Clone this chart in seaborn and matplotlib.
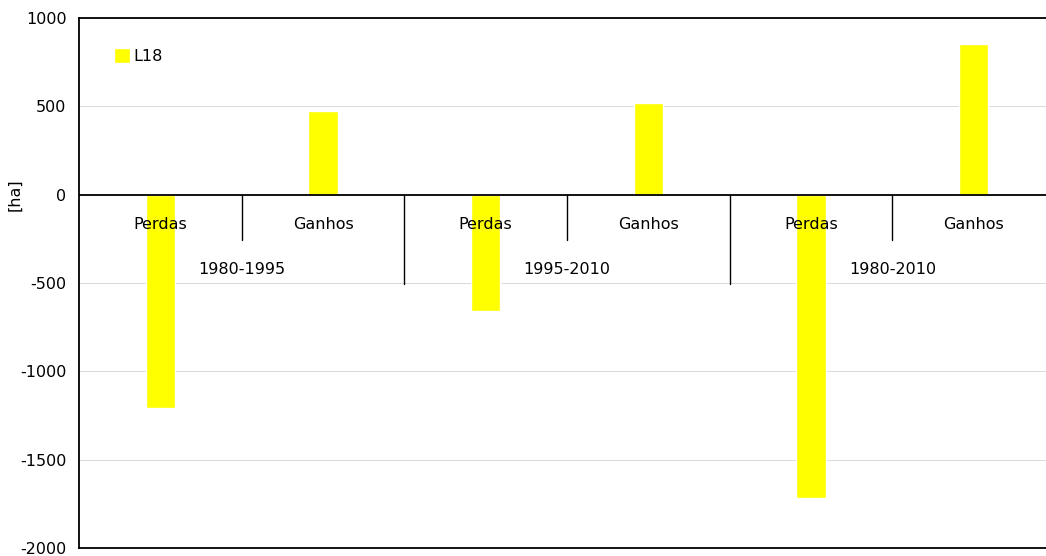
import matplotlib
matplotlib.use("Agg")
import matplotlib.pyplot as plt
import seaborn as sns
import pandas as pd

# values (ha)
periods = ["1980-1995", "1995-2010", "1980-2010"]
kinds = ["Perdas", "Ganhos"]
values = [-1205, 472, -658, 520, -1718, 852]
series_name = "L18"

keys = [f"{k} {p}" for p in periods for k in kinds]
df = pd.DataFrame({"key": keys, "value": values,
                   "kind": [k for p in periods for k in kinds],
                   "period": [p for p in periods for k in kinds]})

sns.set_style("white")
plt.rcParams["font.family"] = ["DejaVu Sans"]
plt.rcParams["axes.unicode_minus"] = False
plt.rcParams["text.color"] = "black"

fs = 11.5

fig = plt.figure(figsize=(10.46, 5.56), dpi=100)
# plot area runs a bit past the right edge of the image, as in the original
ax = fig.add_axes([79 / 1046, 1 - 548 / 556, (1055 - 79) / 1046, (548 - 18) / 556])

sns.barplot(data=df, x="key", y="value", order=keys, color="#FFFF00",
            width=0.18, saturation=1, ax=ax, label=series_name, zorder=3)

ax.set_ylim(-2000, 1000)
ax.set_xlim(-0.5, len(keys) - 0.5)
ax.set_yticks(range(-2000, 1001, 500))
ax.tick_params(axis="y", labelsize=fs, length=6, width=1, direction="out",
               colors="black", labelcolor="black", pad=3)
ax.tick_params(axis="x", bottom=False, labelbottom=False)
ax.set_xlabel("")
ax.set_ylabel("")
ax.yaxis.grid(True, color="#d9d9d9", linewidth=0.7, zorder=0)
for s in ["left", "top", "bottom", "right"]:
    ax.spines[s].set_color("black")
    ax.spines[s].set_linewidth(1.3)

ax.axhline(0, color="black", linewidth=1.3, zorder=4)

# category labels under the zero line
for i, row in df.iterrows():
    ax.text(i, -170, row["kind"], ha="center", va="center", fontsize=fs, zorder=5)
for j, p in enumerate(periods):
    ax.text(2 * j + 0.5, -425, p, ha="center", va="center", fontsize=fs, zorder=5)
    # short separator inside each group, long one between groups
    ax.plot([2 * j + 0.5] * 2, [0, -255], color="black", linewidth=1, zorder=4)
    if j > 0:
        ax.plot([2 * j - 0.5] * 2, [0, -505], color="black", linewidth=1, zorder=4)

ax.text(-0.066, 0.666, "[ha]", transform=ax.transAxes, rotation=90,
        ha="center", va="center", fontsize=fs)

ax.legend(loc="upper left", bbox_to_anchor=(0.029, 0.955), frameon=False,
          fontsize=fs, handlelength=1.0, handleheight=1.0, handletextpad=0.25,
          borderaxespad=0)

fig.savefig("out.png", dpi=100)
